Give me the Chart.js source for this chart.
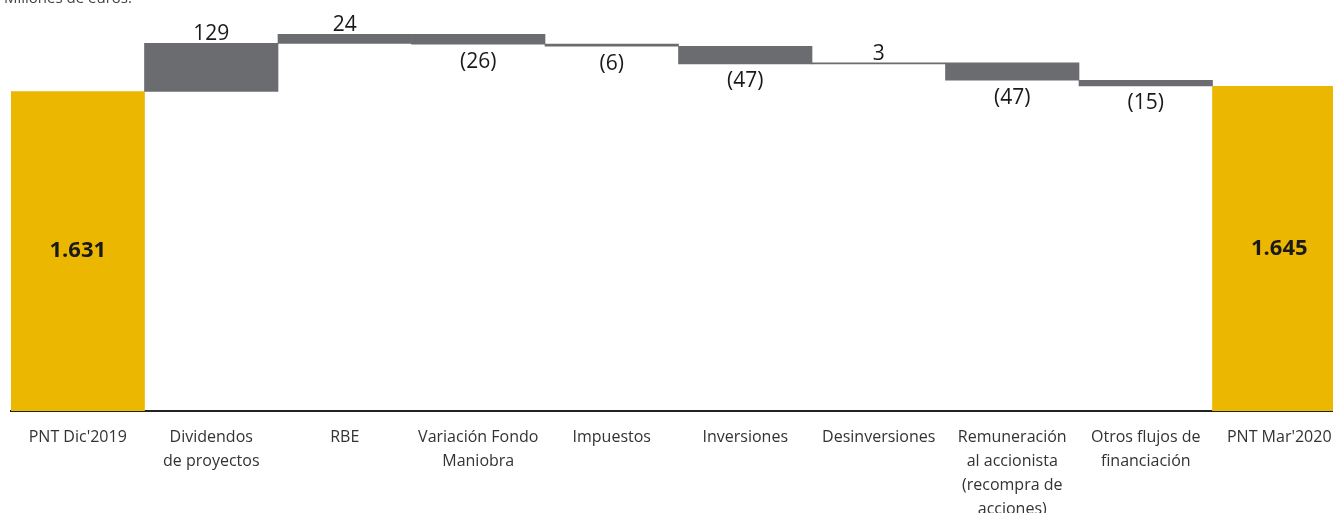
<!DOCTYPE html>
<html>
<head>
<meta charset="utf-8">
<script src="https://cdn.jsdelivr.net/npm/chart.js@4"></script>
<style>
  html, body { margin: 0; padding: 0; overflow: hidden; background: #fff; }
  #wrap { position: relative; width: 1346px; height: 535px; }
  #unidad { position: absolute; left: 4px; top: -13px; font: 15px "Open Sans"; color: #444; }
</style>
</head>
<body>
<div id="wrap">
  <div id="unidad">Millones de euros.</div>
  <canvas id="grafico" width="1346" height="535"></canvas>
</div>
<script>
document.addEventListener('DOMContentLoaded', function() {
    // datos del puente de deuda neta
    const categorias = [
        ["PNT Dic'2019"],
        ["Dividendos", "de proyectos"],
        ["RBE"],
        ["Variación Fondo", "Maniobra"],
        ["Impuestos"],
        ["Inversiones"],
        ["Desinversiones"],
        ["Remuneración", "al accionista", "(recompra de", "acciones)"],
        ["Otros flujos de", "financiación"],
        ["PNT Mar'2020"]
    ];
    const saldoInicial = 1631;
    const variaciones = [129, 24, -26, -6, -47, 3, -47, -15];
    const saldoFinal = 1645;

    const ejeMin = 775;
    const ejeMax = 1876;

    // barras flotantes: [desde, hasta]
    var tramos = [[ejeMin, saldoInicial]];
    var acumulado = saldoInicial;
    variaciones.forEach(function(v) {
        tramos.push([acumulado, acumulado + v]);
        acumulado += v;
    });
    tramos.push([ejeMin, saldoFinal]);

    const valores = [saldoInicial].concat(variaciones, [saldoFinal]);
    const colores = valores.map(function(v, i) {
        return (i === 0 || i === valores.length - 1) ? '#EBB700' : '#6B6C70';
    });

    function formato(n) {
        var txt = Math.abs(n).toString().replace(/\B(?=(\d{3})+(?!\d))/g, '.');
        return n < 0 ? '(' + txt + ')' : txt;
    }

    const etiquetas = {
        id: 'etiquetas',
        afterDatasetsDraw(chart) {
            const ctx = chart.ctx;
            const meta = chart.getDatasetMeta(0);
            ctx.save();
            ctx.fillStyle = '#1a1a1a';
            ctx.textAlign = 'center';
            meta.data.forEach(function(bar, i) {
                const arriba = Math.min(bar.y, bar.base);
                const abajo = Math.max(bar.y, bar.base);
                const v = valores[i];
                if (i === 0 || i === valores.length - 1) {
                    ctx.font = 'bold 22px "Open Sans"';
                    ctx.textBaseline = 'middle';
                    ctx.fillText(formato(v), bar.x, (arriba + abajo) / 2);
                } else if (v >= 0) {
                    ctx.font = '21px "Open Sans"';
                    ctx.textBaseline = 'alphabetic';
                    ctx.fillText(formato(v), bar.x, arriba - 3);
                } else {
                    ctx.font = '21px "Open Sans"';
                    ctx.textBaseline = 'top';
                    ctx.fillText(formato(v), bar.x, abajo + 7);
                }
            });
            ctx.restore();
        }
    };

    const contexto = document.getElementById('grafico').getContext('2d');

    const data = {
        labels: categorias,
        datasets: [{
            data: tramos,
            backgroundColor: colores,
            borderWidth: 0,
            barPercentage: 1,
            categoryPercentage: 1
        }]
    };

    const config = {
        type: 'bar',
        data,
        options: {
            responsive: false,
            animation: false,
            layout: { padding: { left: 11, right: 0, top: 0, bottom: 0 } },
            plugins: {
                legend: { display: false },
                tooltip: { enabled: false }
            },
            scales: {
                x: {
                    grid: { display: false, drawTicks: false },
                    border: { display: true, color: '#222', width: 2 },
                    ticks: {
                        color: '#333',
                        font: { family: 'Open Sans', size: 16, lineHeight: 1.5 },
                        padding: 14,
                        maxRotation: 0,
                        autoSkip: false
                    }
                },
                y: {
                    display: false,
                    min: ejeMin,
                    max: ejeMax
                }
            }
        },
        plugins: [etiquetas]
    };

    const grafico = new Chart(contexto, config);
});
</script>
</body>
</html>
